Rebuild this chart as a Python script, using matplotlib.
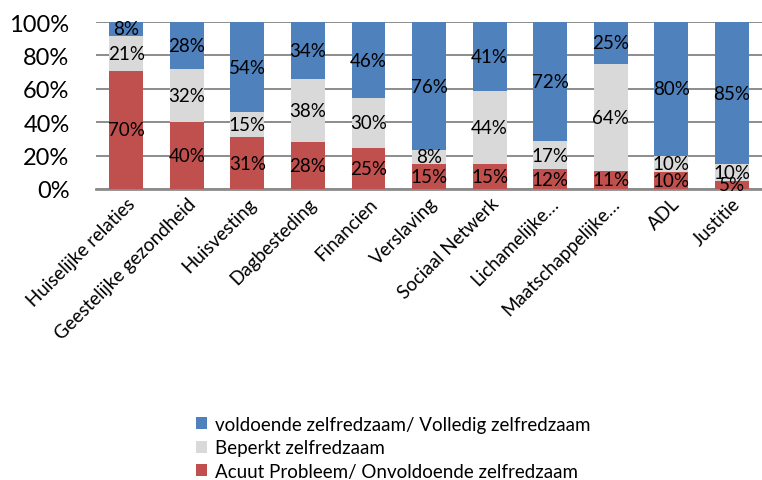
import numpy as np
import matplotlib.pyplot as plt

categories = ['Huiselijke relaties', 'Geestelijke gezondheid', 'Huisvesting',
              'Dagbesteding', 'Financien', 'Verslaving', 'Sociaal Netwerk',
              'Lichamelijke\u2026', 'Maatschappelijke\u2026', 'ADL', 'Justitie']
acuut = [70, 40, 31, 28, 25, 15, 15, 12, 11, 10, 5]
beperkt = [21, 32, 15, 38, 30, 8, 44, 17, 64, 10, 10]
voldoende = [8, 28, 54, 34, 46, 76, 41, 72, 25, 80, 85]

series = [('Acuut Probleem/ Onvoldoende zelfredzaam', acuut, '#C0504D'),
          ('Beperkt zelfredzaam', beperkt, '#D9D9D9'),
          ('voldoende zelfredzaam/ Volledig zelfredzaam', voldoende, '#4F81BD')]

plt.rcParams['font.family'] = ['Lato', 'DejaVu Sans']

fig = plt.figure(figsize=(7.62, 4.81), dpi=100)
ax = fig.add_axes([0.126, 0.605, 0.874, 0.347])

vals = np.array([s[1] for s in series], dtype=float)
tot = vals.sum(axis=0)
pct = vals / tot * 100
x = np.arange(len(categories))
bottom = np.zeros(len(categories))
handles = []
for (name, v, col), p in zip(series, pct):
    b = ax.bar(x, p, 0.56, bottom=bottom, color=col, label=name, zorder=3)
    handles.append(b)
    for xi, bi, pi, lab in zip(x, bottom, p, v):
        ax.text(xi, bi + pi / 2, '%d%%' % lab, ha='center', va='center',
                fontsize=13.5, color='black', zorder=4)
    bottom += p

ax.set_xlim(-0.5, len(categories) - 0.5)
ax.set_ylim(0, 100)
ax.set_yticks(np.arange(0, 101, 20))
ax.set_yticklabels(['%d%%' % t for t in range(0, 101, 20)], fontsize=17)
ax.yaxis.grid(True, color='#8c8c8c', linewidth=1.4, zorder=0)
ax.tick_params(axis='y', length=0, pad=19)
ax.tick_params(axis='x', length=0, pad=4)
ax.set_xticks(x)
ax.set_xticklabels(categories, rotation=45, ha='right', rotation_mode='anchor',
                   fontsize=13.5)
for s in ['top', 'right', 'left']:
    ax.spines[s].set_visible(False)
ax.spines['bottom'].set_color('#8c8c8c')
ax.spines['bottom'].set_linewidth(2)

fig.legend(handles[::-1], [s[0] for s in series][::-1], loc='lower left',
           bbox_to_anchor=(0.235, -0.035), frameon=False, fontsize=13.5,
           handlelength=0.6, handleheight=0.6, handletextpad=0.4,
           labelspacing=0.35)

fig.savefig('out.png', dpi=100)
